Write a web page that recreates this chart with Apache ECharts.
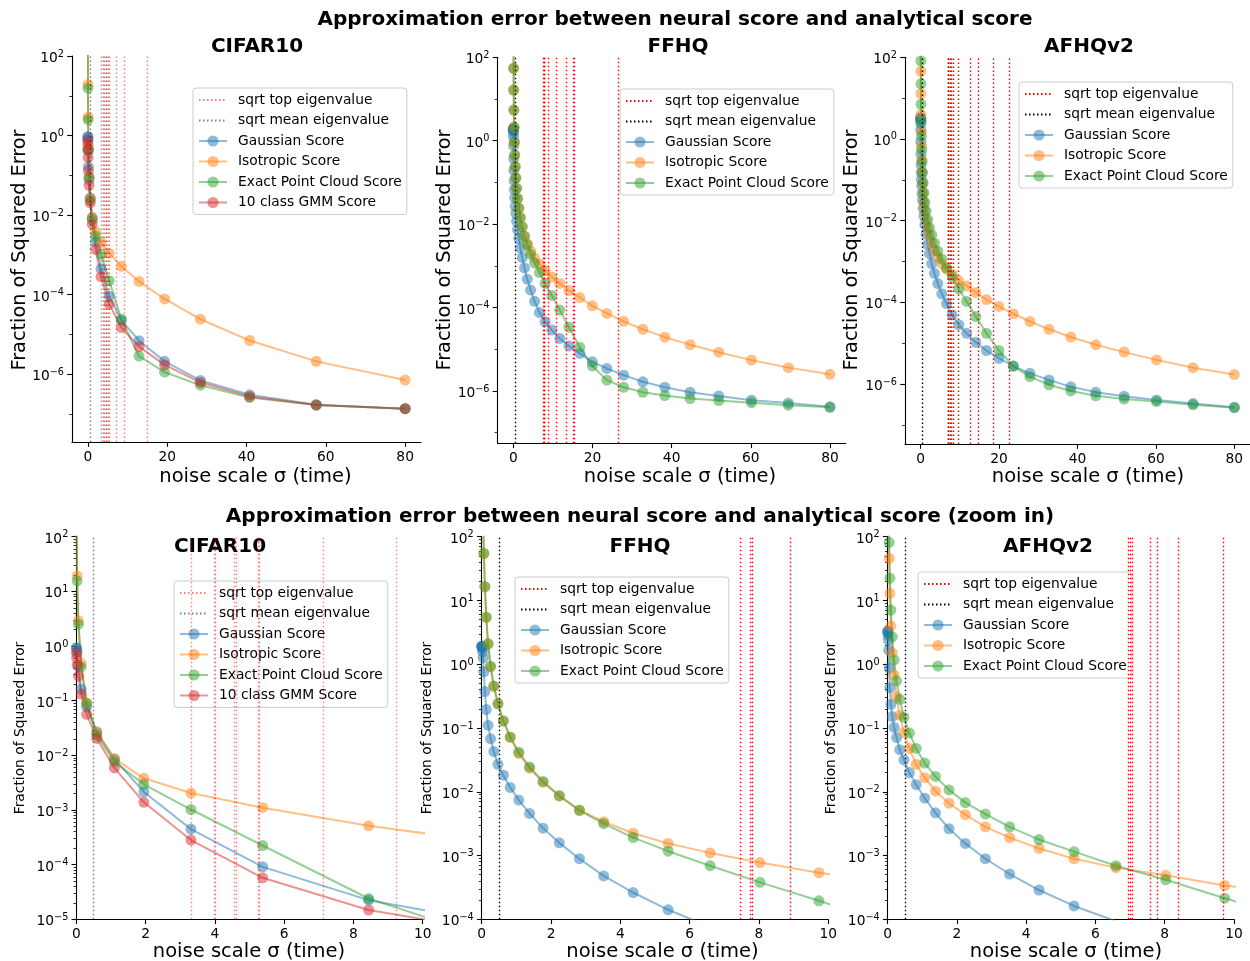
<!DOCTYPE html>
<html>
<head>
<meta charset="utf-8">
<title>Approximation error between neural score and analytical score</title>
<script src="https://cdn.jsdelivr.net/npm/echarts@6/dist/echarts.min.js"></script>
<style>
  html, body { margin: 0; padding: 0; background: #fff; }
  #chart { width: 1250px; height: 961px; }
</style>
</head>
<body>
<div id="chart"></div>
<script>
// noise levels (EDM schedule): 18 steps for CIFAR10, 40 steps for FFHQ / AFHQv2
const sigmaCifar = [80, 57.59, 40.79, 28.37, 19.35, 12.91, 8.44, 5.38, 3.31, 1.95, 1.10, 0.592, 0.299, 0.141, 0.0617, 0.0245, 0.0087, 0.002]
const sigmaFace = [80, 69.48, 60.16, 51.90, 44.66, 38.29, 32.72, 27.86, 23.62, 19.96,
  16.79, 14.06, 11.73, 9.73, 8.03, 6.59, 5.38, 4.37, 3.52, 2.82,
  2.24, 1.77, 1.38, 1.07, 0.823, 0.626, 0.470, 0.349, 0.256, 0.185,
  0.131, 0.0917, 0.0628, 0.0421, 0.0275, 0.0175, 0.0108, 0.0064, 0.0037, 0.002]

// CIFAR10 fraction of squared error
const cifarGaussian = [1.35e-7, 1.70e-7, 3.02e-7, 6.92e-7, 2.09e-6, 6.92e-6, 2.24e-5, 9.12e-5, 4.47e-4, 2.14e-3, 8.51e-3, 2.69e-2, 7.76e-2, 0.162, 0.427, 0.794, 0.912, 0.933]
const cifarIsotropic = [7.08e-7, 2.09e-6, 7.0e-6, 2.40e-5, 7.76e-5, 2.14e-4, 5.13e-4, 1.10e-3, 2.04e-3, 3.80e-3, 8.71e-3, 2.63e-2, 9.12e-2, 0.479, 2.88, 19.1, 200, 1580]
const cifarExact = [1.35e-7, 1.66e-7, 2.57e-7, 5.25e-7, 1.12e-6, 2.82e-6, 2.40e-5, 2.24e-4, 1.02e-3, 2.95e-3, 7.59e-3, 2.34e-2, 8.91e-2, 0.417, 2.51, 15.5, 200, 1580]
const cifarGmm = [1.35e-7, 1.66e-7, 2.75e-7, 6.17e-7, 1.70e-6, 4.90e-6, 1.48e-5, 5.75e-5, 2.82e-4, 1.38e-3, 5.89e-3, 2.04e-2, 5.62e-2, 0.132, 0.282, 0.447, 0.603, 0.759]

// FFHQ
const ffhqGaussian = [4.17e-7, 5.13e-7, 6.03e-7, 7.59e-7, 9.33e-7, 1.23e-6, 1.66e-6, 2.40e-6, 3.47e-6, 5.01e-6,
  7.94e-6, 1.20e-5, 1.82e-5, 2.88e-5, 4.57e-5, 7.59e-5, 1.41e-4, 2.63e-4, 4.79e-4, 8.91e-4,
  1.58e-3, 2.69e-3, 4.57e-3, 7.41e-3, 1.17e-2, 1.82e-2, 2.69e-2, 4.27e-2, 6.76e-2, 0.110,
  0.195, 0.372, 0.759, 1.26, 1.58, 1.78, 1.86, 1.91, 1.91, 1.91]
const ffhqIsotropic = [2.51e-6, 3.63e-6, 5.50e-6, 8.51e-6, 1.29e-5, 1.95e-5, 3.02e-5, 4.68e-5, 7.24e-5, 1.10e-4,
  1.74e-4, 2.57e-4, 3.80e-4, 5.37e-4, 7.76e-4, 1.10e-3, 1.55e-3, 2.24e-3, 3.39e-3, 5.13e-3,
  8.51e-3, 1.41e-2, 2.34e-2, 3.98e-2, 7.08e-2, 0.129, 0.240, 0.447, 0.912, 2.09,
  5.37, 16.2, 53.7, 200, 631, 1580, 3980, 1.0e4, 2.0e4, 3.98e4]
const ffhqExact = [4.07e-7, 4.57e-7, 5.25e-7, 5.89e-7, 6.61e-7, 7.76e-7, 9.33e-7, 1.23e-6, 1.82e-6, 3.98e-6,
  1.12e-5, 3.39e-5, 8.71e-5, 1.95e-4, 3.80e-4, 6.92e-4, 1.17e-3, 1.91e-3, 3.16e-3, 5.13e-3,
  8.71e-3, 1.45e-2, 2.45e-2, 4.17e-2, 7.24e-2, 0.129, 0.240, 0.457, 0.933, 2.09,
  5.50, 16.6, 55.0, 200, 631, 1580, 3980, 1.0e4, 2.0e4, 3.98e4]

// AFHQv2
const afhqGaussian = [2.69e-7, 3.31e-7, 4.07e-7, 5.01e-7, 6.31e-7, 8.51e-7, 1.26e-6, 1.82e-6, 2.75e-6, 4.27e-6,
  6.61e-6, 1.05e-5, 1.74e-5, 2.82e-5, 4.90e-5, 9.33e-5, 1.62e-4, 2.88e-4, 5.13e-4, 8.91e-4,
  1.55e-3, 2.63e-3, 4.68e-3, 7.94e-3, 1.29e-2, 2.00e-2, 3.16e-2, 4.57e-2, 7.08e-2, 0.102,
  0.151, 0.234, 0.427, 0.871, 1.66, 2.40, 2.88, 3.16, 3.24, 3.31]
const afhqIsotropic = [1.70e-6, 2.51e-6, 3.89e-6, 6.03e-6, 9.12e-6, 1.41e-5, 2.19e-5, 3.39e-5, 5.25e-5, 7.94e-5,
  1.17e-4, 1.74e-4, 2.51e-4, 3.39e-4, 4.90e-4, 6.46e-4, 8.91e-4, 1.29e-3, 1.91e-3, 2.82e-3,
  4.37e-3, 6.61e-3, 1.02e-2, 1.66e-2, 2.69e-2, 4.79e-2, 8.51e-2, 0.158, 0.309, 0.676,
  1.51, 3.98, 12.9, 45.7, 178, 631, 2000, 6310, 1.58e4, 3.98e4]
const afhqExact = [2.63e-7, 3.09e-7, 3.72e-7, 4.27e-7, 5.13e-7, 6.76e-7, 9.55e-7, 1.51e-6, 2.75e-6, 6.61e-6,
  1.74e-5, 4.47e-5, 1.05e-4, 2.14e-4, 4.17e-4, 6.92e-4, 1.15e-3, 1.78e-3, 2.82e-3, 4.47e-3,
  6.76e-3, 1.07e-2, 1.74e-2, 2.82e-2, 4.79e-2, 8.32e-2, 0.148, 0.282, 0.550, 1.17,
  2.69, 7.08, 22.4, 81.3, 316, 1000, 3160, 7940, 2.0e4, 5.01e4]

// sqrt of covariance eigenvalues (vertical lines)
const cifarTopEig = [3.31, 3.97, 4.02, 4.56, 4.62, 5.24, 5.27, 7.14, 9.25, 14.96]
const ffhqTopEig = [7.45, 7.76, 7.81, 8.90, 10.87, 13.4, 15.2, 15.5, 26.4]
const afhqTopEig = [6.96, 7.01, 7.07, 7.58, 7.77, 8.39, 9.68, 12.6, 14.7, 18.5, 22.7]
const cifarMeanEig = [0.5]
const ffhqMeanEig = [0.5]
const afhqMeanEig = [0.5]

// tick values
const xTicksFull = [0, 20, 40, 60, 80]
const xTicksZoom = [0, 2, 4, 6, 8, 10]
const yLabelsFull = [1e-6, 1e-4, 1e-2, 1, 1e2]
const yMinorFull = [1e-7, 1e-5, 1e-3, 1e-1, 1e1]
const yLabelsCifarZoom = [1e-5, 1e-4, 1e-3, 1e-2, 1e-1, 1, 1e1, 1e2]
const yLabelsFaceZoom = [1e-4, 1e-3, 1e-2, 1e-1, 1, 1e1, 1e2]

const FONT = 'DejaVu Sans'
const BLUE = '#1f77b4', ORANGE = '#ff7f0e', GREEN = '#2ca02c', RED = '#d62728'

// 2..9 x 10^k minor ticks for the zoomed panels
function minorLogTicks(decades) {
  const out = []
  decades.forEach(function (d) {
    for (let m = 2; m < 10; m++) out.push(m * d)
  })
  return out
}

function supLabel(v) {
  const e = Math.round(Math.log10(v))
  const s = e < 0 ? '\u2212' + (-e) : String(e)
  return '{b|10}{e|' + s + '}'
}

const grids = []
const xAxes = []
const yAxes = []
const series = []
const legends = []

function scoreSeries(gi, yi, name, color, xs, ys) {
  return {
    type: 'line', name: name, xAxisIndex: gi, yAxisIndex: yi,
    data: xs.map(function (x, k) { return [x, ys[k]] }),
    symbol: 'circle', symbolSize: 11, clip: true,
    lineStyle: { color: color, width: 2, opacity: 0.5 },
    itemStyle: { color: color, opacity: 0.5 },
    emphasis: { disabled: true },
  }
}

function vlineSeries(gi, yi, name, color, opacity, xs, xmax) {
  const ls = { color: color, width: 1.4, type: [1.5, 2.5], opacity: opacity }
  return {
    type: 'line', name: name, xAxisIndex: gi, yAxisIndex: yi, data: [],
    symbol: 'none', lineStyle: ls, itemStyle: { color: color, opacity: 0 },
    markLine: {
      silent: true, symbol: ['none', 'none'], label: { show: false },
      lineStyle: ls, emphasis: { disabled: true },
      data: xs.filter(function (x) { return x <= xmax }).map(function (x) { return { xAxis: x } }),
    },
  }
}

function addPanel(p) {
  const gi = grids.length
  grids.push({ left: p.box[0], top: p.box[1], width: p.box[2], height: p.box[3] })
  const axisLine = { show: true, onZero: false, lineStyle: { color: '#000', width: 1.1 } }
  xAxes.push({
    type: 'value', gridIndex: gi, min: p.xRange[0], max: p.xRange[1],
    axisLine: axisLine,
    axisTick: { customValues: p.xTicks, length: 4.8, lineStyle: { color: '#000', width: 1.1 } },
    axisLabel: { customValues: p.xTicks, margin: 8, fontSize: 13.8, fontFamily: FONT, color: '#000' },
    splitLine: { show: false },
  })
  const yi = yAxes.length
  yAxes.push({
    type: 'log', gridIndex: gi, position: 'left', min: p.yRange[0], max: p.yRange[1],
    axisLine: axisLine,
    axisTick: { customValues: p.yLabels, length: 4.8, lineStyle: { color: '#000', width: 1.1 } },
    axisLabel: {
      customValues: p.yLabels, formatter: supLabel, margin: 8, color: '#000',
      rich: {
        b: { fontSize: 13.8, fontFamily: FONT, color: '#000', lineHeight: 14, padding: [5, 0, 0, 0] },
        e: { fontSize: 9.7, fontFamily: FONT, color: '#000', lineHeight: 10, verticalAlign: 'top' },
      },
    },
    splitLine: { show: false },
  })
  // minor ticks
  yAxes.push({
    type: 'log', gridIndex: gi, position: 'left', min: p.yRange[0], max: p.yRange[1],
    axisLine: { show: false, onZero: false },
    axisTick: { customValues: p.yMinor, length: 2.8, lineStyle: { color: '#000', width: 0.8 } },
    axisLabel: { show: false },
    splitLine: { show: false },
  })

  const sfx = p.cifar ? ' ' : ''
  const lineAlpha = p.cifar ? 0.5 : 1
  series.push(vlineSeries(gi, yi, 'sqrt top eigenvalue' + sfx, 'red', lineAlpha, p.topEig, p.xRange[1]))
  series.push(vlineSeries(gi, yi, 'sqrt mean eigenvalue' + sfx, 'black', lineAlpha, p.meanEig, p.xRange[1]))
  const names = ['sqrt top eigenvalue' + sfx, 'sqrt mean eigenvalue' + sfx]
  p.curves.forEach(function (c) {
    series.push(scoreSeries(gi, yi, c[0], c[1], p.sigma, c[2]))
    names.push(c[0])
  })

  legends.push({
    data: names, orient: 'vertical', left: p.legend[0], top: p.legend[1],
    itemWidth: 28, itemHeight: 14, itemGap: 6.5, padding: [5, 5, 5, 5],
    borderColor: '#cccccc', borderWidth: 1, borderRadius: 3,
    backgroundColor: 'rgba(255,255,255,0.8)', selectedMode: false,
    textStyle: { fontSize: 13.8, fontFamily: FONT, color: '#000', padding: [0, 0, 0, 6] },
  })
}

const cifarCurves = [
  ['Gaussian Score', BLUE, cifarGaussian],
  ['Isotropic Score', ORANGE, cifarIsotropic],
  ['Exact Point Cloud Score', GREEN, cifarExact],
  ['10 class GMM Score', RED, cifarGmm],
]
const ffhqCurves = [
  ['Gaussian Score', BLUE, ffhqGaussian],
  ['Isotropic Score', ORANGE, ffhqIsotropic],
  ['Exact Point Cloud Score', GREEN, ffhqExact],
]
const afhqCurves = [
  ['Gaussian Score', BLUE, afhqGaussian],
  ['Isotropic Score', ORANGE, afhqIsotropic],
  ['Exact Point Cloud Score', GREEN, afhqExact],
]

const zoomCifarMinor = minorLogTicks([1e-5, 1e-4, 1e-3, 1e-2, 1e-1, 1, 10])
const zoomFaceMinor = minorLogTicks([1e-4, 1e-3, 1e-2, 1e-1, 1, 10])

// top row: full range
addPanel({ box: [72, 56, 349, 386], xRange: [-4, 84], yRange: [1.96e-8, 100], xTicks: xTicksFull,
  yLabels: yLabelsFull, yMinor: yMinorFull, sigma: sigmaCifar, curves: cifarCurves, cifar: true,
  topEig: cifarTopEig, meanEig: cifarMeanEig, legend: [193, 88] })
addPanel({ box: [497.5, 57.3, 348.3, 386], xRange: [-4, 84], yRange: [5.57e-8, 100], xTicks: xTicksFull,
  yLabels: yLabelsFull, yMinor: yMinorFull, sigma: sigmaFace, curves: ffhqCurves,
  topEig: ffhqTopEig, meanEig: ffhqMeanEig, legend: [620, 89] })
addPanel({ box: [905, 57.3, 349, 386.7], xRange: [-4, 84], yRange: [3.39e-8, 100], xTicks: xTicksFull,
  yLabels: yLabelsFull, yMinor: yMinorFull, sigma: sigmaFace, curves: afhqCurves,
  topEig: afhqTopEig, meanEig: afhqMeanEig, legend: [1019, 82] })
// bottom row: zoom in
addPanel({ box: [76.3, 536.7, 346.4, 382.6], xRange: [0, 10], yRange: [1e-5, 100], xTicks: xTicksZoom,
  yLabels: yLabelsCifarZoom, yMinor: zoomCifarMinor, sigma: sigmaCifar, curves: cifarCurves, cifar: true,
  topEig: cifarTopEig, meanEig: cifarMeanEig, legend: [174, 581] })
addPanel({ box: [481.7, 536.7, 346.6, 382.6], xRange: [0, 10], yRange: [1e-4, 100], xTicks: xTicksZoom,
  yLabels: yLabelsFaceZoom, yMinor: zoomFaceMinor, sigma: sigmaFace, curves: ffhqCurves,
  topEig: ffhqTopEig, meanEig: ffhqMeanEig, legend: [515, 577] })
addPanel({ box: [887.7, 536.7, 346.3, 382.6], xRange: [0, 10], yRange: [1e-4, 100], xTicks: xTicksZoom,
  yLabels: yLabelsFaceZoom, yMinor: zoomFaceMinor, sigma: sigmaFace, curves: afhqCurves,
  topEig: afhqTopEig, meanEig: afhqMeanEig, legend: [918, 572] })

function label(text, x, y, size, bold, rotate) {
  return {
    type: 'text', x: x, y: y, rotation: rotate ? Math.PI / 2 : 0, silent: true,
    style: {
      text: text, fill: '#000', align: 'center', verticalAlign: 'middle',
      font: (bold ? 'bold ' : '') + size + 'px "' + FONT + '"',
    },
  }
}

const xName = 'noise scale \u03c3 (time)'
const yName = 'Fraction of Squared Error'
const texts = [
  label('Approximation error between neural score and analytical score', 675, 19.5, 20, true),
  label('CIFAR10', 257, 46.5, 20, true),
  label('FFHQ', 678, 46.5, 20, true),
  label('AFHQv2', 1089, 47, 20, true),
  label('Approximation error between neural score and analytical score (zoom in)', 640, 517, 20, true),
  label('CIFAR10', 220, 547, 20, true),
  label('FFHQ', 640, 547, 20, true),
  label('AFHQv2', 1048, 547, 20, true),
  label(xName, 255.5, 477, 19.5), label(xName, 680, 477, 19.5), label(xName, 1088, 477, 19.5),
  label(xName, 249, 952, 19.5), label(xName, 662.5, 952, 19.5), label(xName, 1066, 952, 19.5),
  label(yName, 20, 250, 19.3, false, true), label(yName, 444.5, 250, 19.3, false, true),
  label(yName, 852.3, 250, 19.3, false, true),
  label(yName, 20.5, 728, 13.8, false, true), label(yName, 427, 728, 13.8, false, true),
  label(yName, 831.5, 728, 13.8, false, true),
]

const chart = echarts.init(document.getElementById('chart'))
const option = {
  animation: false,
  backgroundColor: '#fff',
  textStyle: { fontFamily: FONT },
  grid: grids,
  xAxis: xAxes,
  yAxis: yAxes,
  legend: legends,
  series: series,
  graphic: texts,
}
chart.setOption(option)
</script>
</body>
</html>
